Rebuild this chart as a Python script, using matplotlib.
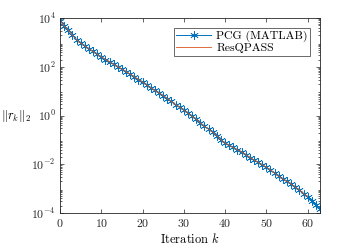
import numpy as np
import matplotlib
matplotlib.use("Agg")
import matplotlib.pyplot as plt
from matplotlib.ticker import LogLocator, NullFormatter

# residual norms (log scale)
iters = list(range(64))
pcg_res = [7.9e3, 4.8e3, 3.2e3, 2.0e3, 1.3e3, 9.5e2, 7.2e2, 5.5e2, 4.3e2, 3.3e2,
           2.6e2, 2.0e2, 1.6e2, 1.26e2, 1.0e2, 81, 63, 50, 39, 30,
           24, 18, 13.8, 10.7, 8.5, 6.6, 5.0, 3.8, 2.8, 2.2,
           1.66, 1.26, 0.93, 0.71, 0.50, 0.36, 0.28, 0.21, 0.15, 0.102,
           0.074, 0.060, 0.049, 0.039, 0.032, 0.025, 0.019, 0.015, 0.012, 0.0095,
           0.0076, 0.0058, 0.0044, 0.0032, 0.0025, 0.0020, 0.00155, 0.00117, 0.00089, 0.00063,
           0.00047, 0.00032, 0.00022, 0.00015]
resq_iters = list(range(61))
resq_res = pcg_res[:61]

plt.rcParams["font.family"] = "serif"
plt.rcParams["font.serif"] = ["cmr10", "DejaVu Serif"]
plt.rcParams["mathtext.fontset"] = "cm"
plt.rcParams["axes.formatter.use_mathtext"] = True

fig = plt.figure(figsize=(3.54, 2.48), dpi=100)
ax = fig.add_axes([0.1695, 0.141, 0.7345, 0.786])

# MATLAB-style asterisk marker
ax.semilogy(iters, pcg_res, color="#0072BD", lw=0.7, marker=(6, 2, 0), ms=6,
            mew=0.5, label="PCG (MATLAB)")
ax.semilogy(resq_iters, resq_res, color="#D95319", lw=0.6, label="ResQPASS")

ax.set_xlim(0, 63)
ax.set_ylim(1e-4, 1e4)
ax.set_xticks([0, 10, 20, 30, 40, 50, 60])
ax.set_yticks([1e-4, 1e-2, 1e0, 1e2, 1e4])
ax.yaxis.set_minor_locator(LogLocator(base=10, subs=np.arange(2, 10), numticks=20))
ax.yaxis.set_minor_formatter(NullFormatter())

for s in ax.spines.values():
    s.set_linewidth(0.6)
    s.set_color("#262626")
ax.tick_params(which="both", direction="in", top=True, right=True,
               labelsize=8.5, colors="#262626", width=0.5, pad=3)
ax.tick_params(which="major", length=3)
ax.tick_params(which="minor", length=1.6)

ax.set_xlabel(r"Iteration $k$", fontsize=9, labelpad=2)
ax.set_ylabel(r"$\|r_k\|_2$", fontsize=9, rotation=0, ha="center", va="center")
ax.yaxis.set_label_coords(-0.17, 0.5)

leg = ax.legend(loc="upper right", fontsize=8.5, frameon=True, fancybox=False,
                edgecolor="#262626", borderaxespad=0.85, handlelength=3.0,
                borderpad=0.2, labelspacing=0.1, handletextpad=0.4)
leg.get_frame().set_linewidth(0.6)

fig.savefig("out.png", dpi=100)
